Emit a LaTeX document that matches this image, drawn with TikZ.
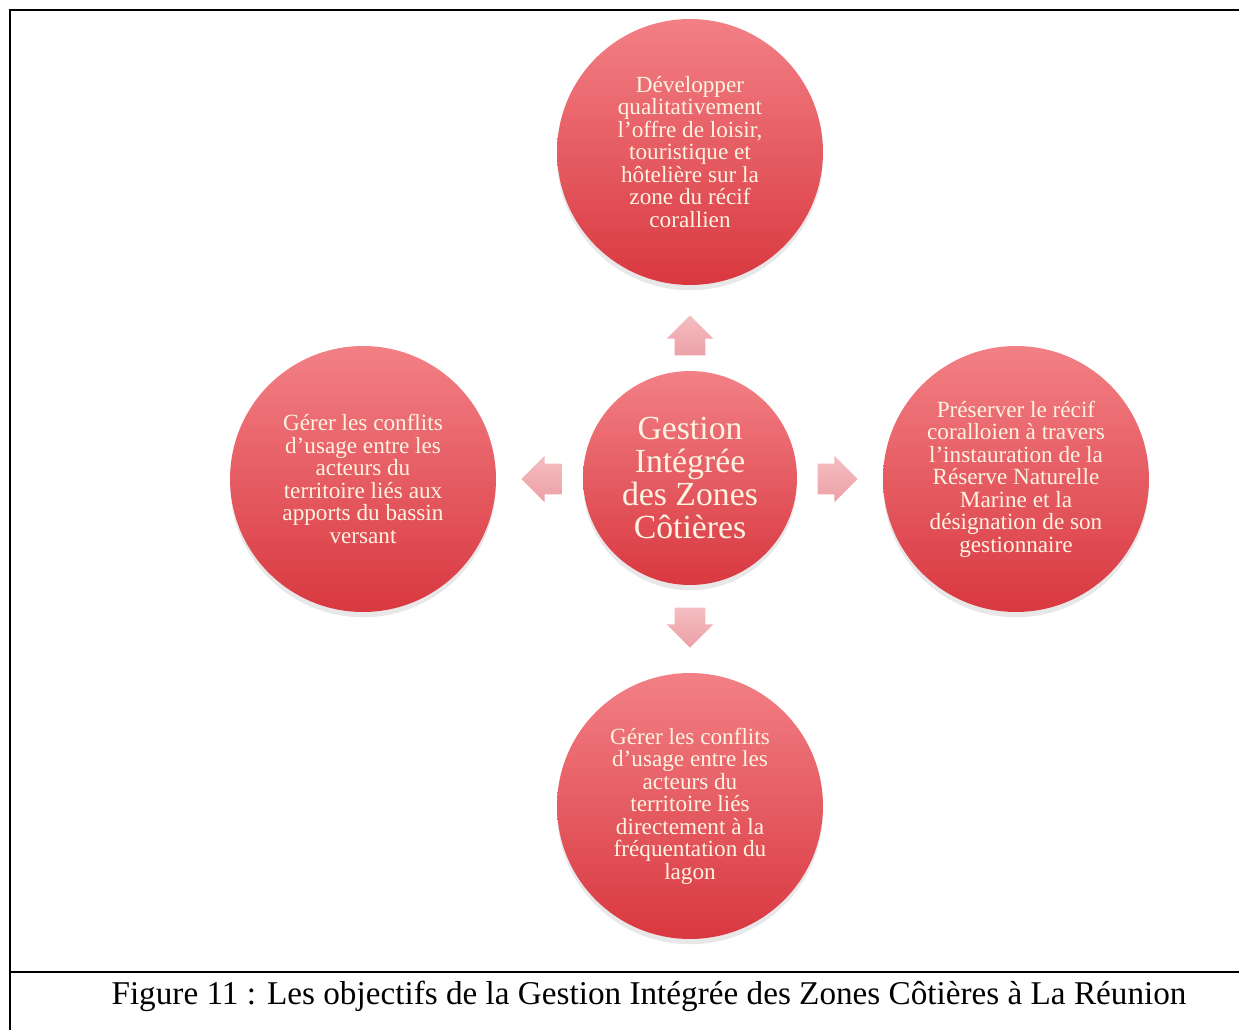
\documentclass[tikz,border=0pt]{standalone}
\usepackage{fontspec}
\setmainfont{Liberation Serif}
\usepackage{tikz}
\usetikzlibrary{shapes.arrows,shadows}
\definecolor{circtop}{RGB}{242,128,133}
\definecolor{circbot}{RGB}{217,56,64}
\definecolor{txtcream}{RGB}{253,243,226}
\definecolor{arrtop}{RGB}{244,190,194}
\definecolor{arrbot}{RGB}{236,160,166}

\begin{document}
\begin{tikzpicture}[x=0.02cm,y=-0.02cm,
    goal node/.style={circle,minimum size=5.32cm,inner sep=0pt,draw=none,
      top color=circtop,bottom color=circbot,text=txtcream,align=center,
      font=\fontsize{13.2}{12.8}\selectfont,
      drop shadow={opacity=0.18,shadow xshift=0pt,shadow yshift=-3pt}},
    main node/.style={goal node,minimum size=4.28cm,
      font=\fontsize{19.2}{18.7}\selectfont},
    block arrow/.style={single arrow,draw=none,inner xsep=0pt,inner ysep=0.3cm,
      top color=arrtop,bottom color=arrbot,
      minimum height=0.8cm,single arrow head extend=0.16cm},
    vblock arrow/.style={block arrow,inner xsep=0.3cm,inner ysep=0pt}]
  \useasboundingbox (0,0) rectangle (1239,1030);
  \draw[line width=1.6pt] (10,1030) -- (10,10) -- (1239,10);
  \draw[line width=1.2pt] (10,972) -- (1239,972);

  \node[main node] (gizc) at (690,478) {Gestion\\Intégrée\\des Zones\\Côtières};
  \node[goal node] (loisir) at (690,152) {Développer\\qualitativement\\l’offre de loisir,\\touristique et\\hôtelière sur la\\zone du récif\\corallien};
  \node[goal node] (bassin) at (363,479) {Gérer les conflits\\d'usage entre les\\acteurs du\\territoire liés aux\\apports du bassin\\versant};
  \node[goal node] (recif) at (1016,479) {Préserver le récif\\coralloien à travers\\l'instauration de la\\Réserve Naturelle\\Marine et la\\désignation de son\\gestionnaire};
  \node[goal node] (lagon) at (690,806) {Gérer les conflits\\d’usage entre les\\acteurs du\\territoire liés\\directement à la\\fréquentation du\\lagon};

  \node[vblock arrow,shape border rotate=90] (a1) at (690,343) {};
  \node[block arrow,shape border rotate=180] (a2) at (549,479) {};
  \node[block arrow] (a3) at (830,479) {};
  \node[vblock arrow,shape border rotate=270] (a4) at (690,620) {};

  \node[font=\fontsize{18.9}{22}\selectfont] (caption) at (649,996)
    {Figure 11 : Les objectifs de la Gestion Intégrée des Zones Côtières à La Réunion};
\end{tikzpicture}
\end{document}
